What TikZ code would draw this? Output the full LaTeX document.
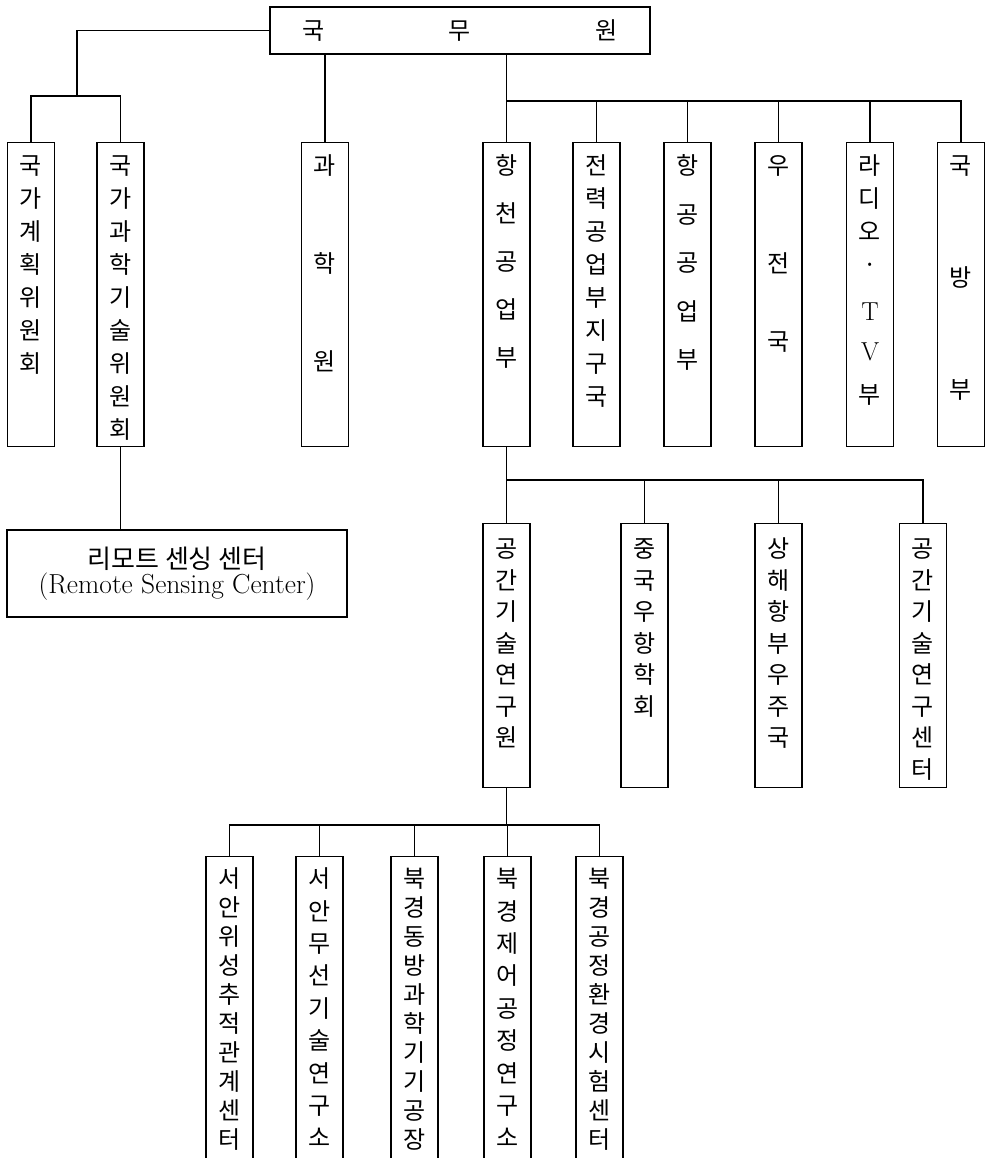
\documentclass[tikz,border=0pt]{standalone}
\usepackage{fontspec}
\newfontfamily\cjk{Noto Sans CJK KR}

\begin{document}
\begin{tikzpicture}[
		x=1pt, y=-1pt,
		font=\cjk\fontsize{24}{28}\selectfont,
		% Box styles for the three levels
		unitBox/.style={draw, line width=1.2pt, inner sep=0pt, text width=47pt, align=center, anchor=north},
		lineGap/.style={font=\cjk\fontsize{24}{#1}\selectfont},
		rowOne/.style={unitBox, text height=32pt, text depth=272pt},
		rowTwo/.style={unitBox, text height=34pt, text depth=230pt},
		rowThree/.style={unitBox, text height=31pt, text depth=299pt},
		% Connector style
		link/.style={line width=1.2pt}
		]
		\useasboundingbox (0,0) rectangle (986,1158);
		\clip (0,0) rectangle (986,1158);
		
		% =========================================================
		% TOP: STATE COUNCIL
		% =========================================================
		\node[draw, line width=1.2pt, minimum width=380pt, minimum height=47pt] (State) at (460,30.5) {국\hspace{124pt}무\hspace{124pt}원};
		
		% =========================================================
		% FIRST LEVEL
		% =========================================================
		\node[rowOne, lineGap=33] (NatPlan) at (31,142) {국\\가\\계\\획\\위\\원\\회};
		\node[rowOne, lineGap=33] (NatSci) at (120.5,142) {국\\가\\과\\학\\기\\술\\위\\원\\회};
		\node[rowOne, lineGap=98] (Academy) at (325,142) {과\\학\\원};
		\node[rowOne, lineGap=48] (Aero) at (506.5,142) {항\\천\\공\\업\\부};
		\node[rowOne, lineGap=33] (Power) at (596.5,142) {전\\력\\공\\업\\부\\지\\구\\국};
		\node[rowOne, lineGap=48.5] (Aviation) at (687.5,142) {항\\공\\공\\업\\부};
		\node[rowOne, lineGap=88] (Post) at (778.5,142) {우\\[10pt]전\\[-10pt]국};
		\node[rowOne, lineGap=33] (Radio) at (870,142) {라\\디\\오\\·\\[14pt]{\rmfamily\fontsize{26}{33}\selectfont T}\\[7pt]{\rmfamily\fontsize{26}{33}\selectfont V}\\[10pt]부};
		\node[rowOne, lineGap=112] (Defense) at (961,142) {국\\방\\부};
		
		% Remote sensing under the science commission
		\node[draw, line width=1.2pt, minimum width=340pt, minimum height=87pt, align=center] (Remote) at (177,573.5) {%
			{\fontsize{26}{32}\selectfont 리모트 센싱 센터}\\[-3pt]
			{\rmfamily\fontsize{27.5}{32}\selectfont (Remote Sensing Center)}};
		
		% Connectors of the first level
		\coordinate (LeftBus) at (77,96);
		\coordinate (RightBus) at (509,101);
		\draw[link] (State.west) -| (LeftBus);
		\draw[link] (NatPlan.north) |- (LeftBus) -| (NatSci.north);
		\draw[link] (State.south -| Academy.north) -- (Academy.north);
		\draw[link] (State.south -| Aero.north) -- (Aero.north);
		\draw[link] (Aero.north |- RightBus) -- (Defense.north |- RightBus) -- (Defense.north);
		\foreach \u in {Power, Aviation, Post, Radio}
			\draw[link] (\u.north) -- (\u.north |- RightBus);
		\draw[link] (NatSci.south) -- (NatSci.south |- Remote.north);
		
		% =========================================================
		% SECOND LEVEL (UNDER AEROSPACE)
		% =========================================================
		\node[rowTwo, lineGap=31.5] (Space) at (506.5,523) {공\\간\\기\\술\\연\\구\\원};
		\node[rowTwo, lineGap=31.5] (Society) at (644.5,523) {중\\국\\우\\항\\학\\회};
		\node[rowTwo, lineGap=31.5] (Shanghai) at (778.5,523) {상\\해\\항\\부\\우\\주\\국};
		\node[rowTwo, lineGap=31.5] (SpaceCtr) at (923,523) {공\\간\\기\\술\\연\\구\\센\\터};
		
		\coordinate (MidBus) at (0,480);
		\draw[link] (Aero.south) -- (Space.north);
		\draw[link] (Space.north |- MidBus) -- (SpaceCtr.north |- MidBus) -- (SpaceCtr.north);
		\foreach \u in {Society, Shanghai}
			\draw[link] (\u.north) -- (\u.north |- MidBus);
		
		% =========================================================
		% THIRD LEVEL (UNDER SPACE TECHNOLOGY ACADEMY)
		% =========================================================
		\node[rowThree, lineGap=29] (XiTrack) at (229.5,856) {서\\안\\위\\성\\추\\적\\관\\계\\센\\터};
		\node[rowThree, lineGap=32.4] (XiRadio) at (319.5,856) {서\\안\\무\\선\\기\\술\\연\\구\\소};
		\node[rowThree, lineGap=29] (BjFactory) at (414.5,856) {북\\경\\동\\방\\과\\학\\기\\기\\공\\장};
		\node[rowThree, lineGap=32.4] (BjControl) at (507.5,856) {북\\경\\제\\어\\공\\정\\연\\구\\소};
		\node[rowThree, lineGap=29] (BjTest) at (599.5,856) {북\\경\\공\\정\\환\\경\\시\\험\\센\\터};
		
		\coordinate (LowBus) at (0,825);
		\draw[link] (Space.south) -- (Space.south |- LowBus);
		\draw[link] (XiTrack.north) -- (XiTrack.north |- LowBus) -- (BjTest.north |- LowBus) -- (BjTest.north);
		\foreach \u in {XiRadio, BjFactory, BjControl}
			\draw[link] (\u.north) -- (\u.north |- LowBus);
		
	\end{tikzpicture}
\end{document}
